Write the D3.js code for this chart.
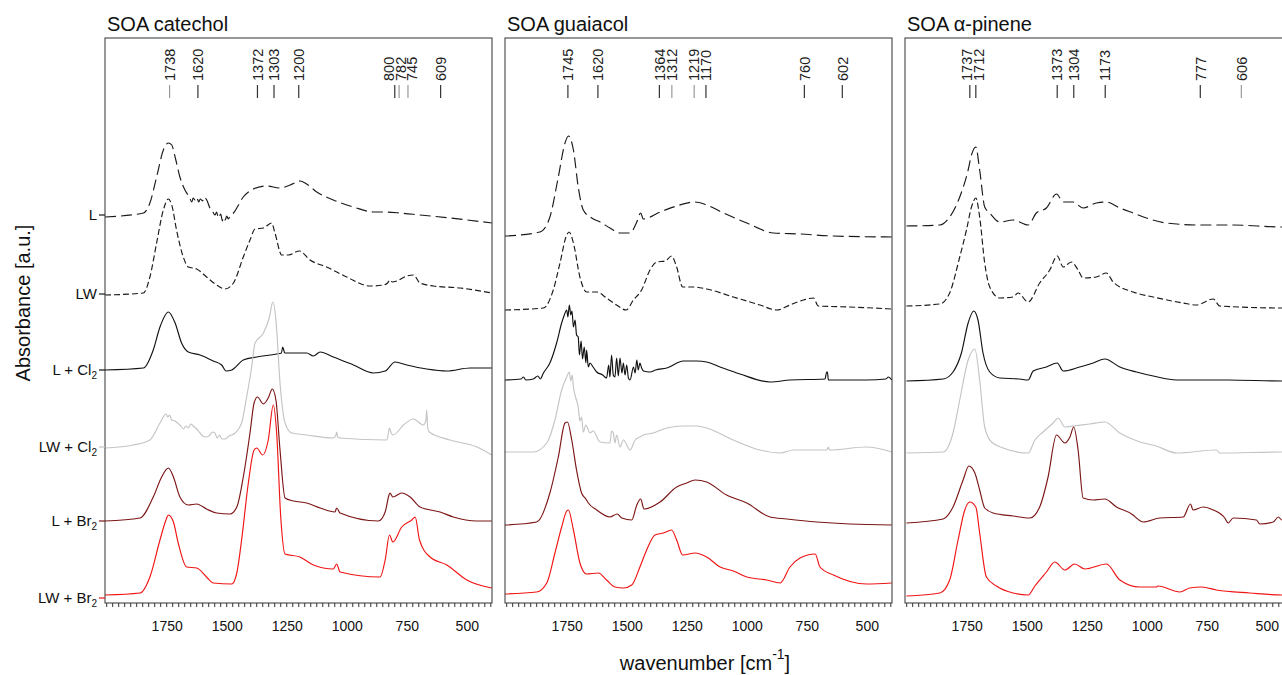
<!DOCTYPE html>
<html>
<head>
<meta charset="utf-8">
<script src="https://cdn.jsdelivr.net/npm/d3@7"></script>
<style>
  body { margin: 0; background: #fff; }
  svg { display: block; font-family: "Liberation Sans", Arial, sans-serif; }
</style>
</head>
<body>
<div id="chart"></div>
<script>
// spectra: [wavenumber cm-1, stacked absorbance (a.u. x100)]
var panelTitles = ["SOA catechol", "SOA guaiacol", "SOA \u03b1-pinene"]
var seriesNames = [["L", ""], ["LW", ""], ["L + Cl", "2"], ["LW + Cl", "2"], ["L + Br", "2"], ["LW + Br", "2"]]
var seriesLevels = [388, 309, 233, 156, 82, 5]
var seriesColors = ["#1a1a1a", "#1a1a1a", "#111111", "#c4c4c4", "#7c1616", "#f01414"]
var seriesDash = ["11,5", "6,3", null, null, null, null]
var xTicks = [1750, 1500, 1250, 1000, 750, 500]

var catecholPeaks = [1738, 1620, 1372, 1303, 1200, 800, 782, 745, 609]
var catecholPeakGrey = [1738, 782, 745]
var guaiacolPeaks = [1745, 1620, 1364, 1312, 1219, 1170, 760, 602]
var guaiacolPeakGrey = [1312, 1219]
var pinenePeaks = [1737, 1712, 1373, 1304, 1173, 777, 606]
var pinenePeakGrey = [606]

var catL = [[2007,386],[1847,390],[1820,400],[1792,426],[1764,453],[1743,460],[1729,458],[1715,446],[1695,426],[1674,413],[1656,406],[1645,401],[1640,405],[1632,403],[1625,406],[1617,401],[1610,404],[1600,402],[1595,406],[1583,403],[1570,395],[1560,392],[1549,388],[1542,391],[1535,385],[1525,389],[1518,382],[1514,386],[1506,383],[1500,387],[1493,384],[1486,387],[1472,390],[1431,406],[1389,414],[1334,417],[1278,415],[1236,418],[1195,422],[1167,419],[1125,411],[1056,403],[972,396],[889,391],[847,391],[778,390],[695,388],[570,385],[396,380]]
var catLW = [[2007,308],[1847,310],[1820,326],[1792,360],[1764,393],[1743,404],[1729,398],[1709,373],[1681,346],[1660,336],[1625,334],[1584,326],[1542,318],[1507,314],[1472,320],[1431,346],[1403,363],[1382,374],[1347,375],[1313,380],[1299,370],[1271,348],[1243,348],[1197,352],[1153,343],[1084,336],[1000,326],[903,317],[847,318],[830,320],[820,323],[810,321],[792,322],[750,327],[722,328],[695,320],[639,317],[528,315],[396,310]]
var catLCl = [[2007,233],[1847,235],[1806,253],[1778,276],[1743,291],[1715,280],[1688,260],[1660,251],[1611,248],[1556,242],[1521,238],[1503,232],[1479,233],[1431,243],[1375,246],[1292,249],[1272,250],[1267,256],[1258,250],[1167,250],[1139,247],[1111,251],[1056,246],[972,238],[889,230],[840,232],[799,241],[750,238],[667,234],[583,232],[486,235],[396,235]]
var catLWCl = [[2007,155],[1889,158],[1820,163],[1778,180],[1753,189],[1745,186],[1738,188],[1729,183],[1715,182],[1705,180],[1695,178],[1680,174],[1670,177],[1660,175],[1650,179],[1639,177],[1625,174],[1611,170],[1600,167],[1584,166],[1570,168],[1560,171],[1549,170],[1540,165],[1530,168],[1520,164],[1507,164],[1490,167],[1465,170],[1438,180],[1417,206],[1396,236],[1382,260],[1347,270],[1322,286],[1308,301],[1295,283],[1278,220],[1257,180],[1229,170],[1167,168],[1056,165],[1045,168],[1042,171],[1038,166],[1028,165],[833,163],[822,175],[815,170],[806,168],[764,178],[722,184],[681,178],[670,183],[667,193],[663,175],[656,171],[570,163],[458,156],[396,148]]
var catLBr = [[2007,82],[1861,85],[1806,106],[1771,126],[1743,135],[1722,126],[1695,106],[1660,98],[1625,99],[1584,94],[1542,90],[1486,89],[1458,96],[1431,126],[1403,170],[1386,200],[1372,206],[1347,199],[1327,205],[1310,214],[1295,203],[1278,153],[1257,105],[1222,102],[1167,100],[1111,95],[1049,91],[1042,95],[1028,90],[868,82],[840,91],[824,108],[820,110],[808,106],[771,110],[736,106],[695,96],[611,91],[556,86],[458,82],[396,82]]
var catLWBr = [[2007,8],[1861,10],[1820,26],[1778,63],[1753,83],[1743,88],[1722,81],[1702,60],[1667,36],[1625,35],[1584,26],[1556,20],[1479,19],[1458,30],[1438,63],[1410,120],[1386,153],[1375,155],[1350,148],[1327,163],[1306,198],[1292,170],[1275,86],[1257,49],[1195,46],[1139,38],[1056,34],[1042,39],[1028,31],[861,26],[840,43],[822,68],[808,61],[771,76],[729,83],[715,86],[697,63],[653,46],[583,38],[500,23],[396,15]]

var guaL = [[2007,367],[1861,371],[1820,386],[1785,426],[1757,460],[1743,467],[1722,453],[1702,416],[1681,393],[1646,385],[1611,381],[1570,375],[1528,370],[1486,370],[1458,381],[1442,390],[1431,384],[1361,391],[1292,397],[1215,401],[1167,398],[1097,390],[1000,380],[889,370],[778,369],[639,367],[396,366]]
var guaLW = [[2007,293],[1847,295],[1806,313],[1778,340],[1750,368],[1740,371],[1722,360],[1695,326],[1667,311],[1625,311],[1584,305],[1542,298],[1503,293],[1472,303],[1438,313],[1403,333],[1375,341],[1340,342],[1313,347],[1292,336],[1267,316],[1222,316],[1167,314],[1056,306],[945,298],[875,293],[820,298],[764,303],[722,305],[702,297],[570,296],[396,294]]
var guaLCl = [[2007,223],[1940,224],[1930,226],[1920,223],[1889,224],[1870,227],[1860,224],[1847,230],[1820,240],[1792,260],[1771,280],[1760,288],[1750,293],[1745,286],[1739,298],[1733,288],[1728,292],[1722,276],[1715,283],[1709,268],[1702,266],[1697,248],[1690,262],[1684,244],[1677,256],[1670,240],[1667,253],[1660,236],[1653,240],[1640,236],[1625,231],[1600,228],[1584,225],[1575,238],[1570,226],[1563,248],[1556,228],[1549,226],[1542,245],[1535,227],[1528,245],[1520,230],[1514,240],[1507,228],[1500,238],[1493,225],[1486,223],[1472,236],[1465,230],[1458,243],[1452,233],[1445,240],[1438,235],[1430,232],[1403,231],[1380,233],[1333,235],[1264,242],[1208,242],[1167,241],[1111,236],[1028,229],[903,221],[820,223],[674,224],[667,231],[664,231],[660,223],[656,223],[500,223],[420,224],[410,226],[396,223]]
var guaLWCl = [[2007,151],[1889,151],[1833,160],[1799,183],[1771,213],[1750,226],[1739,231],[1733,222],[1727,228],[1722,216],[1712,205],[1702,196],[1695,182],[1688,186],[1681,171],[1670,178],[1653,170],[1640,172],[1611,161],[1570,160],[1563,172],[1556,170],[1549,160],[1542,168],[1528,156],[1514,163],[1486,153],[1465,163],[1445,166],[1430,168],[1389,170],[1333,175],[1264,177],[1208,177],[1167,175],[1056,163],[945,153],[861,150],[806,153],[667,153],[660,156],[655,153],[500,156],[396,151]]
var guaLBr = [[2007,78],[1875,81],[1820,110],[1785,146],[1757,180],[1747,181],[1729,163],[1709,133],[1688,110],[1670,104],[1660,100],[1625,93],[1570,86],[1540,89],[1520,85],[1479,83],[1458,98],[1442,104],[1428,94],[1361,101],[1292,116],[1250,120],[1215,123],[1167,121],[1084,108],[1000,100],[903,86],[833,84],[708,81],[570,79],[396,78]]
var guaLWBr = [[2007,9],[1875,11],[1833,20],[1799,50],[1771,76],[1750,92],[1743,93],[1722,73],[1695,40],[1667,29],[1618,30],[1584,23],[1549,16],[1514,15],[1479,18],[1445,36],[1417,53],[1382,68],[1347,70],[1313,73],[1292,63],[1267,48],[1215,50],[1167,46],[1111,36],[1056,32],[1000,26],[917,23],[861,20],[820,36],[778,45],[715,49],[695,36],[639,28],[500,19],[396,20]]

var pinL = [[2001,377],[1862,378],[1821,386],[1779,406],[1744,433],[1730,448],[1712,456],[1696,433],[1675,396],[1654,390],[1612,381],[1557,383],[1494,378],[1460,390],[1418,395],[1376,409],[1348,401],[1307,401],[1265,395],[1210,400],[1168,401],[1112,395],[1057,390],[1001,385],[918,380],[779,378],[640,378],[437,376],[400,376]]
var pinLW = [[2001,297],[1862,299],[1821,310],[1779,346],[1751,373],[1730,396],[1712,405],[1696,386],[1675,340],[1654,316],[1612,305],[1557,306],[1536,310],[1494,301],[1446,320],[1404,333],[1373,347],[1348,336],[1314,341],[1286,333],[1265,325],[1210,326],[1168,330],[1140,321],[1057,311],[973,306],[848,300],[793,298],[723,304],[696,297],[437,295],[400,295]]
var pinLCl = [[2001,222],[1848,224],[1807,231],[1772,250],[1744,280],[1721,292],[1703,283],[1682,250],[1654,231],[1612,225],[1529,224],[1494,223],[1473,232],[1418,236],[1373,240],[1348,232],[1279,236],[1223,240],[1175,244],[1112,236],[1043,231],[973,227],[876,223],[661,223],[437,222],[400,222]]
var pinLWCl = [[2001,150],[1848,151],[1807,170],[1779,203],[1744,243],[1716,254],[1696,223],[1675,176],[1647,161],[1598,155],[1494,150],[1466,163],[1432,171],[1390,180],[1369,185],[1341,176],[1307,177],[1237,179],[1175,181],[1112,170],[1029,161],[960,157],[876,150],[710,153],[696,150],[437,151],[400,151]]
var pinLBr = [[2001,80],[1848,84],[1807,96],[1765,123],[1741,137],[1716,130],[1696,113],[1675,95],[1640,90],[1557,87],[1487,85],[1446,96],[1411,126],[1376,168],[1341,160],[1320,166],[1304,176],[1286,153],[1265,105],[1223,103],[1175,104],[1126,96],[1057,88],[1043,85],[1015,81],[946,85],[848,86],[818,99],[807,93],[765,96],[723,93],[675,85],[661,80],[640,85],[543,83],[529,79],[473,81],[452,86],[437,83],[400,83]]
var pinLWBr = [[2001,7],[1862,10],[1821,23],[1786,63],[1758,93],[1737,101],[1712,96],[1696,70],[1668,26],[1626,17],[1557,10],[1494,8],[1466,17],[1418,31],[1383,41],[1341,33],[1300,39],[1258,34],[1168,39],[1112,23],[1029,16],[960,16],[953,17],[862,11],[821,15],[772,16],[710,13],[571,10],[437,8],[400,8]]

var panels = [
    { title: panelTitles[0], spectra: [catL, catLW, catLCl, catLWCl, catLBr, catLWBr], peaks: catecholPeaks, grey: catecholPeakGrey },
    { title: panelTitles[1], spectra: [guaL, guaLW, guaLCl, guaLWCl, guaLBr, guaLWBr], peaks: guaiacolPeaks, grey: guaiacolPeakGrey },
    { title: panelTitles[2], spectra: [pinL, pinLW, pinLCl, pinLWCl, pinLBr, pinLWBr], peaks: pinenePeaks, grey: pinenePeakGrey }
]

var W = 1282, H = 675
var plotTop = 38, plotBottom = 603, panelW = 387, panelGap = 13, left0 = 105

var svg = d3.select("#chart").append("svg").attr("width", W).attr("height", H)

var y = d3.scaleLinear().domain([0, 565]).range([plotBottom, plotTop])

// push close peak labels apart so they don't sit on top of each other
function spreadLabels(xs, gap) {
    var pos = xs.slice()
    for (var iter = 0; iter < 20; iter++) {
        for (var i = 1; i < pos.length; i++) {
            var d = pos[i] - pos[i - 1]
            if (d < gap) {
                var push = (gap - d) / 2
                pos[i - 1] -= push
                pos[i] += push
            }
        }
    }
    return pos
}

panels.forEach(function (p, i) {
    var x0 = left0 + i * (panelW + panelGap)
    var x = d3.scaleLinear().domain([2007, 395]).range([x0, x0 + panelW])
    var g = svg.append("g")

    g.append("clipPath").attr("id", "clip" + i)
        .append("rect").attr("x", x0).attr("y", plotTop).attr("width", panelW).attr("height", plotBottom - plotTop)

    var line = d3.line().x(function (d) { return x(d[0]) }).y(function (d) { return y(d[1]) })
        .curve(d3.curveMonotoneX)

    p.spectra.forEach(function (s, k) {
        g.append("path").datum(s)
            .attr("clip-path", "url(#clip" + i + ")")
            .attr("d", line)
            .attr("fill", "none")
            .attr("stroke", seriesColors[k])
            .attr("stroke-width", 1.15)
            .attr("stroke-dasharray", seriesDash[k])
    })

    // frame
    g.append("rect").attr("x", x0).attr("y", plotTop).attr("width", panelW).attr("height", plotBottom - plotTop)
        .attr("fill", "none").attr("stroke", "#333").attr("stroke-width", 1)

    // x axis
    var axis = d3.axisBottom(x).tickValues(xTicks).tickSize(0).tickPadding(18).tickFormat(d3.format("d"))
    var ax = g.append("g").attr("transform", "translate(0," + plotBottom + ")").call(axis)
    ax.select(".domain").remove()
    ax.selectAll("text").attr("font-size", 14).attr("fill", "#111")
        .attr("font-family", "Liberation Sans, Arial, sans-serif")
    g.selectAll(".minor").data(d3.range(2000, 399, -25)).enter().append("line")
        .attr("x1", function (d) { return x(d) }).attr("x2", function (d) { return x(d) })
        .attr("y1", plotBottom).attr("y2", plotBottom + 4)
        .attr("stroke", "#333").attr("stroke-width", 1)

    // title
    g.append("text").attr("x", x0 + 2).attr("y", 31).attr("font-size", 20).attr("fill", "#111").text(p.title)

    // peak markers
    var lx = spreadLabels(p.peaks.map(function (pk) { return x(pk) }), 11.5)
    p.peaks.forEach(function (pk, j) {
        var c = p.grey.indexOf(pk) >= 0 ? "#9a9a9a" : "#333"
        g.append("line").attr("x1", x(pk)).attr("x2", x(pk)).attr("y1", 85).attr("y2", 98)
            .attr("stroke", c).attr("stroke-width", 1.2)
        g.append("text")
            .attr("transform", "translate(" + lx[j] + ",81) rotate(-90)")
            .attr("dy", "0.36em").attr("font-size", 14.5).attr("fill", "#222")
            .text(pk)
    })
})

// y category ticks on first panel
seriesLevels.forEach(function (lv, k) {
    svg.append("line").attr("x1", left0 - 6).attr("x2", left0).attr("y1", y(lv)).attr("y2", y(lv))
        .attr("stroke", seriesColors[k]).attr("stroke-width", 1.2)
    var t = svg.append("text").attr("x", left0 - 8).attr("y", y(lv) + 5)
        .attr("text-anchor", "end").attr("font-size", 15).attr("fill", "#111")
    t.append("tspan").text(seriesNames[k][0])
    if (seriesNames[k][1]) {
        t.append("tspan").attr("font-size", 10).attr("dy", 4).text(seriesNames[k][1])
    }
})

svg.append("text").attr("transform", "translate(30,303) rotate(-90)")
    .attr("text-anchor", "middle").attr("font-size", 20).attr("fill", "#111")
    .text("Absorbance [a.u.]")

var xl = svg.append("text").attr("x", 705).attr("y", 670)
    .attr("text-anchor", "middle").attr("font-size", 20).attr("fill", "#111")
xl.append("tspan").text("wavenumber [cm")
xl.append("tspan").attr("font-size", 14).attr("dy", -11).text("-1")
xl.append("tspan").attr("dy", 11).text("]")
</script>
</body>
</html>
